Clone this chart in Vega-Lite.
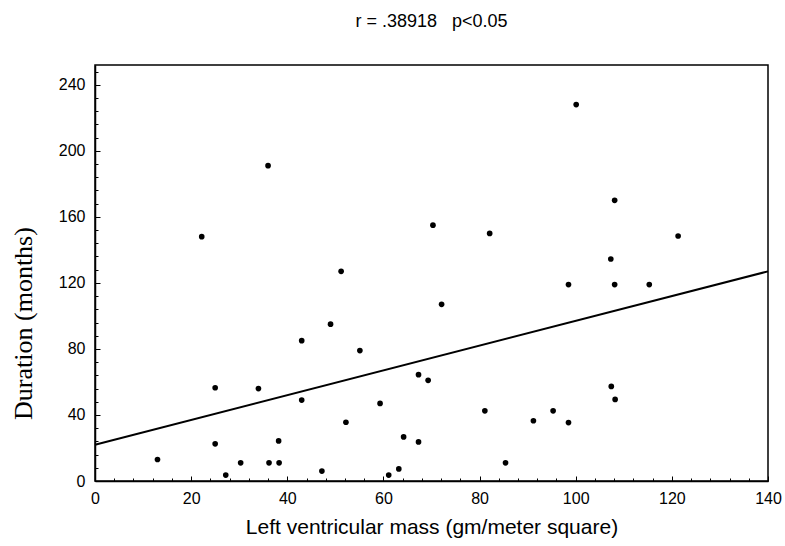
{
  "$schema": "https://vega.github.io/schema/vega-lite/v6.json",
  "width": 673,
  "height": 416,
  "autosize": {"type": "none"},
  "padding": {"left": 95, "top": 65, "right": 17, "bottom": 65},
  "background": "white",
  "title": {
    "text": "r = .38918\u00a0\u00a0\u00a0p<0.05",
    "font": "Liberation Sans",
    "fontSize": 18,
    "fontWeight": "normal",
    "color": "black",
    "anchor": "middle",
    "offset": 34
  },
  "config": {
    "view": {"stroke": "black", "strokeWidth": 1.5},
    "axis": {
      "grid": false,
      "domainColor": "black",
      "domainWidth": 1.5,
      "tickColor": "black",
      "labelColor": "black",
      "titleColor": "black",
      "labelFont": "Liberation Sans",
      "labelFontSize": 16
    }
  },
  "resolve": {"axis": {"x": "independent", "y": "independent"}},
  "datasets": {
    "pts": [
      {"lvm": 13, "dur": 13}, {"lvm": 22.2, "dur": 148}, {"lvm": 25, "dur": 56.5}, {"lvm": 25, "dur": 22.5},
      {"lvm": 27.2, "dur": 3.6}, {"lvm": 30.3, "dur": 11}, {"lvm": 34, "dur": 56}, {"lvm": 36, "dur": 191},
      {"lvm": 36.2, "dur": 11}, {"lvm": 38.3, "dur": 11}, {"lvm": 38.2, "dur": 24.3}, {"lvm": 43, "dur": 85},
      {"lvm": 43, "dur": 49}, {"lvm": 47.2, "dur": 6}, {"lvm": 49, "dur": 95}, {"lvm": 51.2, "dur": 127},
      {"lvm": 52.2, "dur": 35.6}, {"lvm": 55.1, "dur": 79}, {"lvm": 59.3, "dur": 47}, {"lvm": 61.1, "dur": 3.6},
      {"lvm": 63.2, "dur": 7.3}, {"lvm": 64.2, "dur": 26.7}, {"lvm": 67.3, "dur": 23.7}, {"lvm": 67.3, "dur": 64.4},
      {"lvm": 69.3, "dur": 61}, {"lvm": 70.3, "dur": 155}, {"lvm": 72.1, "dur": 107}, {"lvm": 81.1, "dur": 42.5},
      {"lvm": 82.1, "dur": 150}, {"lvm": 85.4, "dur": 11}, {"lvm": 91.2, "dur": 36.5}, {"lvm": 95.3, "dur": 42.5},
      {"lvm": 98.5, "dur": 119}, {"lvm": 98.5, "dur": 35.4}, {"lvm": 100.1, "dur": 228}, {"lvm": 107.3, "dur": 134.5},
      {"lvm": 107.4, "dur": 57.3}, {"lvm": 108.1, "dur": 170}, {"lvm": 108.1, "dur": 119}, {"lvm": 108.2, "dur": 49.4},
      {"lvm": 115.3, "dur": 119}, {"lvm": 121.3, "dur": 148.4}
    ],
    "fit": [
      {"lvm": 0, "dur": 22},
      {"lvm": 140, "dur": 127}
    ]
  },
  "layer": [
    {
      "data": {"name": "pts"},
      "mark": {"type": "circle", "color": "black", "opacity": 1, "size": 32},
      "encoding": {
        "x": {
          "field": "lvm", "type": "quantitative",
          "scale": {"domain": [0, 140], "nice": false},
          "axis": {
            "orient": "bottom",
            "values": [0, 20, 40, 60, 80, 100, 120, 140],
            "tickSize": -5,
            "labelPadding": 14,
            "labelFlush": false,
            "labelOverlap": false,
            "title": "Left ventricular mass (gm/meter square)",
            "titleFont": "Liberation Sans",
            "titleFontSize": 21,
            "titleFontWeight": "normal",
            "titlePadding": 10
          }
        },
        "y": {
          "field": "dur", "type": "quantitative",
          "scale": {"domain": [0, 252], "nice": false},
          "axis": {
            "orient": "left",
            "values": [0, 40, 80, 120, 160, 200, 240],
            "tickSize": -5,
            "labelPadding": 15,
            "labelFlush": false,
            "labelOverlap": false,
            "title": "Duration (months)",
            "titleFont": "Liberation Serif",
            "titleFontSize": 26,
            "titleFontWeight": "normal",
            "titleAngle": -90,
            "titleX": -72,
            "titleY": 258,
            "titleAlign": "center",
            "titleBaseline": "middle"
          }
        }
      }
    },
    {
      "data": {"name": "fit"},
      "mark": {"type": "line", "color": "black", "strokeWidth": 2},
      "encoding": {
        "x": {
          "field": "lvm", "type": "quantitative",
          "axis": {
            "orient": "bottom",
            "values": [4,8,12,16,24,28,32,36,44,48,52,56,64,68,72,76,84,88,92,96,104,108,112,116,124,128,132,136],
            "tickSize": -3,
            "labels": false,
            "domain": false,
            "title": null
          }
        },
        "y": {
          "field": "dur", "type": "quantitative",
          "axis": {
            "orient": "left",
            "values": [8,16,24,32,48,56,64,72,88,96,104,112,128,136,144,152,168,176,184,192,208,216,224,232,248],
            "tickSize": -3,
            "labels": false,
            "domain": false,
            "title": null
          }
        }
      }
    }
  ]
}
